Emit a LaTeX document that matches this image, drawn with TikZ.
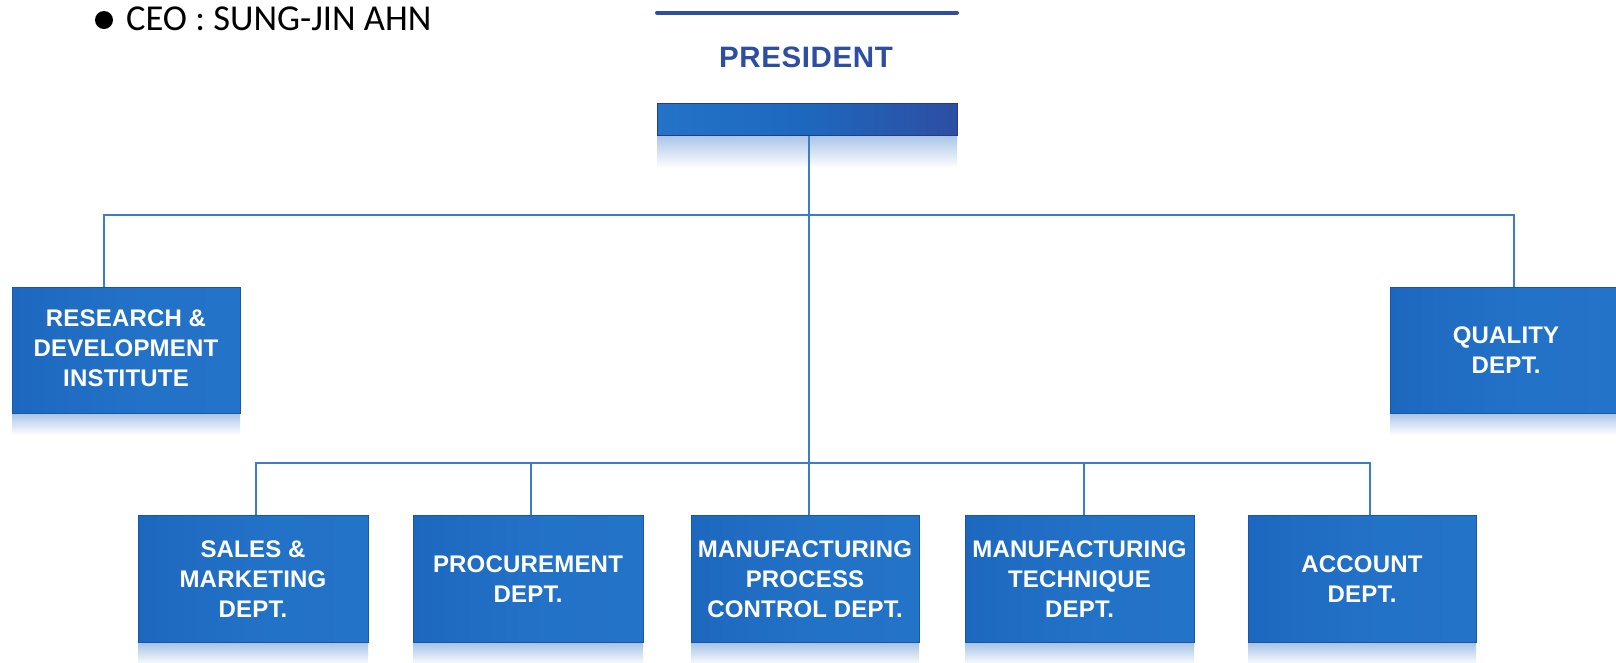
\documentclass[tikz,border=0pt]{standalone}
\usepackage{fontspec}
\setmainfont{Liberation Sans}
\newfontfamily\boxfont[LetterSpace=0.8]{Liberation Sans}
\newfontfamily\calib{Carlito}
\usetikzlibrary{calc}
\definecolor{boxblue}{HTML}{1D68BE}
\definecolor{boxedge}{HTML}{1756A8}
\definecolor{boxlight}{HTML}{2373C9}
\definecolor{linecol}{HTML}{3C7DC9}
\definecolor{presblue}{HTML}{2D4EA2}
\definecolor{reflect}{HTML}{A8C4E8}
\tikzset{
  dept/.style={draw=boxedge, line width=1pt, left color=boxblue, right color=boxlight, middle color=boxlight!85!boxblue,
    text=white, align=center, inner sep=0pt, minimum width=229pt, minimum height=127pt,
    font=\boxfont\bfseries\fontsize{24}{30}\selectfont},
  conn/.style={draw=linecol, line width=2.4pt},
  refl/.style={top color=reflect, bottom color=white, draw=none}
}
\begin{document}
\begin{tikzpicture}[x=1pt,y=-1pt]
\useasboundingbox (0,0) rectangle (1616,662);
\fill[white] (0,0) rectangle (1616,662);

% CEO line
\node[circle, fill=black, inner sep=0pt, minimum size=18pt] (bullet) at (104,20) {};
\node[anchor=base west, inner sep=0pt, font=\calib\fontsize{36.5}{39}\selectfont] (ceo) at (126,30.5) {CEO : SUNG-JIN AHN};

% President
\coordinate (tl) at (657,12.5);
\coordinate (tr) at (957,12.5);
\draw[presblue, line width=4pt, line cap=round] (tl) -- (tr);
\node[text=presblue, font=\bfseries\fontsize{29.5}{31}\selectfont, inner sep=0pt] (ptitle) at (806,57) {\addfontfeature{LetterSpace=2}PRESIDENT};
\fill[refl] (657,135) rectangle (957,168);
\node[draw=presblue!80!black, line width=1pt, left color=boxlight, right color=presblue, middle color=boxblue, minimum width=300pt, minimum height=32pt, inner sep=0pt] (pres) at (807,119) {};

% Reflections under boxes
\foreach \cx/\w/\yb in {126/228/413, 1506/232/413, 253/230/643, 528/230/643, 805/228/643, 1079.5/229/643, 1362/228/643}{
  \fill[refl] (\cx-\w/2,\yb) rectangle (\cx+\w/2,\yb+22);
}

% Boxes
\node[dept, minimum width=228pt, minimum height=126pt] (rnd) at (126,350) {\raisebox{5pt}{\begin{tabular}{@{}c@{}}RESEARCH \&\\DEVELOPMENT\\INSTITUTE\end{tabular}}};
\node[dept, minimum width=232pt, minimum height=126pt] (qual) at (1506,350) {QUALITY\\DEPT.};
\node[dept, minimum width=230pt] (sales) at (253,579) {SALES \&\\MARKETING\\DEPT.};
\node[dept, minimum width=230pt] (proc) at (528,579) {PROCUREMENT\\DEPT.};
\node[dept, minimum width=228pt] (mfgp) at (805,579) {MANUFACTURING\\PROCESS\\CONTROL DEPT.};
\node[dept, minimum width=229pt] (mfgt) at (1079.5,579) {MANUFACTURING\\TECHNIQUE\\DEPT.};
\node[dept, minimum width=228pt] (acct) at (1362,579) {ACCOUNT\\DEPT.};

% bus coordinates
\coordinate (busA) at (809,215);
\coordinate (busB) at (809,463);
\coordinate (jr) at (104,215);
\coordinate (jq) at (1514,215);
\coordinate (js) at (256,463);
\coordinate (jp) at (531,463);
\coordinate (jm) at (809,463);
\coordinate (jt) at (1084,463);
\coordinate (ja) at (1370,463);

% connectors
\draw[conn] (pres.south -| busA) -- (busB);
\draw[conn] (rnd.north -| jr) -- (jr) -- (jq) -- (qual.north -| jq);
\draw[conn] (sales.north -| js) -- (js) -- (ja) -- (acct.north -| ja);
\draw[conn] (jp) -- (proc.north -| jp);
\draw[conn] (jm) -- (mfgp.north -| jm);
\draw[conn] (jt) -- (mfgt.north -| jt);
\end{tikzpicture}
\end{document}
